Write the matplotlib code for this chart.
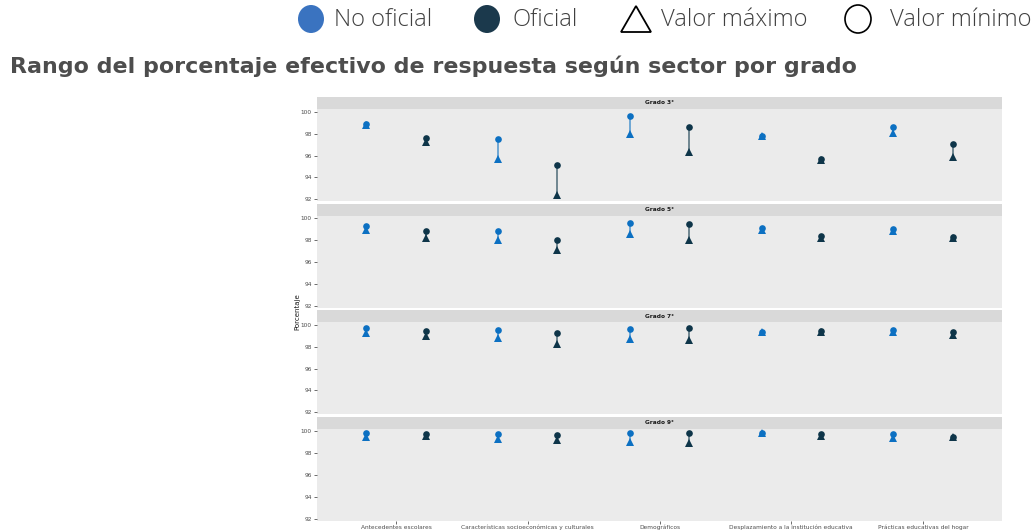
import matplotlib
matplotlib.use("Agg")
import matplotlib.pyplot as plt
from matplotlib.patches import Rectangle, Ellipse, Polygon
import numpy as np

W, H = 1035, 531
DPI = 100

grados = ["Grado 3°", "Grado 5°", "Grado 7°", "Grado 9°"]
categorias = ["Antecedentes escolares",
              "Características socioeconómicas y culturales",
              "Demográficos",
              "Desplazamiento a la institución educativa",
              "Prácticas educativas del hogar"]
sectores = ["No oficial", "Oficial"]
y_ticks = [92, 94, 96, 98, 100]

# rows = grados, columns = categorias
# circle marker ("Valor mínimo" in the legend)
no_oficial_circulo = [
    [98.90, 97.50, 99.65, 97.80, 98.60],
    [99.30, 98.80, 99.60, 99.10, 99.00],
    [99.70, 99.55, 99.60, 99.35, 99.55],
    [99.85, 99.75, 99.80, 99.85, 99.75],
]
# triangle marker ("Valor máximo" in the legend)
no_oficial_triangulo = [
    [98.80, 95.70, 97.95, 97.75, 98.10],
    [98.90, 98.05, 98.60, 98.90, 98.85],
    [99.25, 98.80, 98.70, 99.30, 99.35],
    [99.50, 99.25, 99.00, 99.80, 99.40],
]
oficial_circulo = [
    [97.60, 95.10, 98.65, 95.65, 97.10],
    [98.85, 98.05, 99.50, 98.35, 98.30],
    [99.45, 99.25, 99.70, 99.40, 99.30],
    [99.75, 99.65, 99.80, 99.75, 99.50],
]
oficial_triangulo = [
    [97.20, 92.40, 96.35, 95.55, 95.90],
    [98.20, 97.10, 98.05, 98.20, 98.20],
    [98.95, 98.25, 98.60, 99.35, 99.05],
    [99.60, 99.20, 98.90, 99.55, 99.45],
]

col_marker = {"No oficial": "#0c70c2", "Oficial": "#0e3549"}
datos = {"No oficial": (no_oficial_circulo, no_oficial_triangulo),
         "Oficial": (oficial_circulo, oficial_triangulo)}
offset = {"No oficial": -0.225, "Oficial": 0.225}

fig = plt.figure(figsize=(W / DPI, H / DPI), dpi=DPI)
fig.patch.set_facecolor("white")

def fx(px):
    return px / W

def fy(py):
    return 1 - py / H

left_px, right_px = 317, 1002
strip_top0 = 97
spacing = 106.5
strip_h = 12
panel_h = 92

x = np.arange(len(categorias))
for i, g in enumerate(grados):
    st = strip_top0 + i * spacing
    pt = st + strip_h
    pb = pt + panel_h
    ax = fig.add_axes([fx(left_px), fy(pb), fx(right_px - left_px), panel_h / H])
    ax.set_facecolor("#ebebeb")
    for s in ax.spines.values():
        s.set_visible(False)
    for sec in sectores:
        circ, tri = datos[sec]
        xs = x + offset[sec]
        c = np.array(circ[i]); t = np.array(tri[i])
        ax.vlines(xs, t, c, color=col_marker[sec], alpha=0.6, lw=1.3, zorder=2)
        ax.plot(xs, t, "^", color=col_marker[sec], ms=5.4, mew=0, zorder=3)
        ax.plot(xs, c, "o", color=col_marker[sec], ms=4.8, mew=0, zorder=4)
    ax.set_xlim(-0.6, len(categorias) - 0.4)
    ax.set_ylim(91.85, 100.25)
    ax.set_yticks(y_ticks)
    ax.set_yticklabels([str(v) for v in y_ticks])
    ax.tick_params(axis="y", labelsize=4.2, labelcolor="#4d4d4d", color="#333333",
                   length=2.2, width=0.5, pad=1.5)
    ax.set_xticks(x)
    if i == len(grados) - 1:
        ax.set_xticklabels(categorias)
        ax.tick_params(axis="x", labelsize=4.2, labelcolor="#4d4d4d", color="#333333",
                       length=2.2, width=0.5, pad=0.8)
    else:
        ax.tick_params(axis="x", bottom=False, labelbottom=False)
    # strip
    fig.add_artist(Rectangle((fx(left_px), fy(pt)), fx(right_px - left_px), strip_h / H,
                             transform=fig.transFigure, facecolor="#d9d9d9",
                             edgecolor="none", zorder=1))
    fig.text(fx((left_px + right_px) / 2), fy(st + strip_h / 2), g, ha="center",
             va="center", fontsize=4.2, fontweight="bold", color="#1a1a1a")

fig.text(fx(297), fy(312), "Porcentaje", rotation=90, ha="center", va="center",
         fontsize=5, color="#1a1a1a")

renderer = fig.canvas.get_renderer()

def fit(t, target_w):
    bb = t.get_window_extent(renderer=renderer)
    t.set_fontsize(t.get_fontsize() * target_w / bb.width)

# title
title = fig.text(fx(10), fy(73), "Rango del porcentaje efectivo de respuesta según sector por grado",
                 ha="left", va="baseline", fontsize=16, fontweight="bold",
                 color="#4d4d4d", family="DejaVu Sans")
fit(title, 848)

# legend
ly = 19
leg_items = [("No oficial", 334), ("Oficial", 512), ("Valor máximo", 661), ("Valor mínimo", 890)]
ref = fig.text(fx(661), fy(ly), "Valor máximo", ha="left", va="center", fontsize=14,
               color="#404040", family="Open Sans", fontweight="light")
fit(ref, 147)
fs = ref.get_fontsize()
ref.remove()
for lab, xl in leg_items:
    fig.text(fx(xl), fy(ly + 1), lab, ha="left", va="center", fontsize=fs,
             color="#404040", family="Open Sans", fontweight="light")

fig.add_artist(Ellipse((fx(311), fy(ly)), 26 / W, 28 / H, transform=fig.transFigure,
                       facecolor="#3a73c0", edgecolor="none"))
fig.add_artist(Ellipse((fx(487), fy(ly)), 26 / W, 28 / H, transform=fig.transFigure,
                       facecolor="#1b394c", edgecolor="none"))
fig.add_artist(Polygon([(fx(621), fy(32)), (fx(651), fy(32)), (fx(636), fy(6))],
                       closed=True, transform=fig.transFigure, facecolor="none",
                       edgecolor="black", lw=1.3))
fig.add_artist(Ellipse((fx(858), fy(ly)), 26 / W, 28 / H, transform=fig.transFigure,
                       facecolor="none", edgecolor="black", lw=1.2))

fig.savefig("out.png", dpi=DPI, facecolor="white")
